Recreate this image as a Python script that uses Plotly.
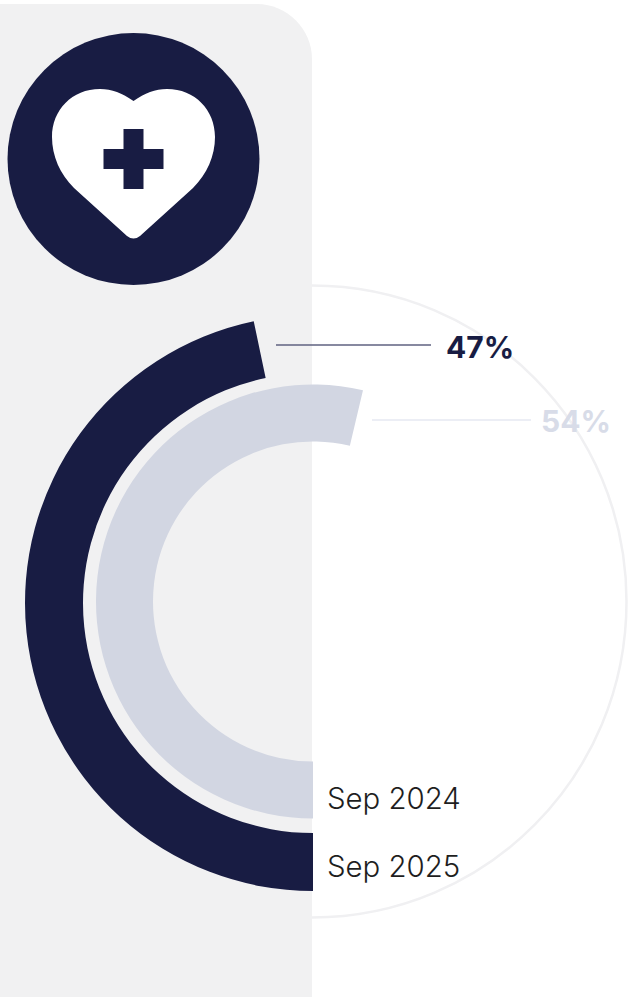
import plotly.graph_objects as go

W, H = 629, 998
labels = ["Sep 2025", "Sep 2024"]
value_labels = ["47%", "54%"]
values = [46.7, 53.7]
colors = ["#181c43", "#d2d6e2"]
value_colors = ["#181c43", "#d8dce8"]
line_colors = ["#5f6280", "#e6e8f2"]


def domain(cx, cy, r):
    return dict(x=[(cx - r) / W, (cx + r) / W], y=[1 - (cy + r) / H, 1 - (cy - r) / H])


fig = go.Figure()

# Leader lines (also activates the pixel-scale axes)
fig.add_trace(go.Scatter(x=[276, 431], y=[345, 345], mode="lines",
                         line=dict(color=line_colors[0], width=1.5), hoverinfo="skip"))
fig.add_trace(go.Scatter(x=[372, 531], y=[420, 420], mode="lines",
                         line=dict(color=line_colors[1], width=1.5), hoverinfo="skip"))

rings = [(313, 603, 288, 230), (313, 601.5, 217, 160)]
for v, c, (cx, cy, ro, ri), name in zip(values, colors, rings, labels):
    fig.add_trace(go.Pie(values=[v, 100 - v], domain=domain(cx, cy, ro), hole=ri / ro, sort=False,
                         direction="clockwise", rotation=180, textinfo="none", hoverinfo="skip",
                         name=name, marker=dict(colors=[c, "rgba(0,0,0,0)"], line=dict(width=0))))

panel = "M0,4 L257,4 C287,4 312,29 312,59 L312,997 L0,997 Z"
heart = ("M133.5,101 C122,93 112,89 100,89 C72,89 52,110 52,137 C52,156 60,174 74,188 "
         "L127,236 Q133.5,241 140,236 L193,188 C207,174 215,156 215,137 "
         "C215,110 195,89 167,89 C155,89 145,93 133.5,101 Z")
plus = "M123.5,129 H143.5 V149 H163.5 V169 H143.5 V189 H123.5 V169 H103.5 V149 H123.5 Z"
track = "M312,285.5 C486,285.5 626.5,427 626.5,601.5 C626.5,776 486,917.5 312,917.5"
shapes = [
    dict(type="path", path=panel, fillcolor="#f1f1f2", line_width=0, layer="below", xref="x", yref="y"),
    dict(type="path", path=track, line=dict(color="#f0f0f2", width=2.5), layer="below", xref="x", yref="y"),
    dict(type="circle", x0=7.5, x1=259.5, y0=33, y1=285, fillcolor="#181c43", line_width=0, xref="x", yref="y"),
    dict(type="path", path=heart, fillcolor="#ffffff", line_width=0, xref="x", yref="y"),
    dict(type="path", path=plus, fillcolor="#181c43", line_width=0, xref="x", yref="y"),
]

annotations = [
    dict(x=444.5, y=347, text=f"<b>{value_labels[0]}</b>", font=dict(family="Inter", size=30, color=value_colors[0])),
    dict(x=540, y=421, text=f"<b>{value_labels[1]}</b>", font=dict(family="Inter", size=30, color=value_colors[1])),
    dict(x=326, y=798, text=labels[1], font=dict(family="Inter", size=29.4, color="#1e1e1e", weight=300)),
    dict(x=326, y=866, text=labels[0], font=dict(family="Inter", size=29.4, color="#1e1e1e", weight=300)),
]
for a in annotations:
    a.update(xref="x", yref="y", xanchor="left", yanchor="middle", showarrow=False, borderpad=0)

fig.update_layout(
    width=W, height=H, margin=dict(l=0, r=0, t=0, b=0), showlegend=False,
    paper_bgcolor="#ffffff", plot_bgcolor="rgba(0,0,0,0)",
    xaxis=dict(range=[0, W], visible=False, fixedrange=True),
    yaxis=dict(range=[H, 0], visible=False, fixedrange=True),
    shapes=shapes, annotations=annotations,
)
fig.write_html("out.html", config={"displayModeBar": False},
               post_script="document.body.style.margin='0';")
